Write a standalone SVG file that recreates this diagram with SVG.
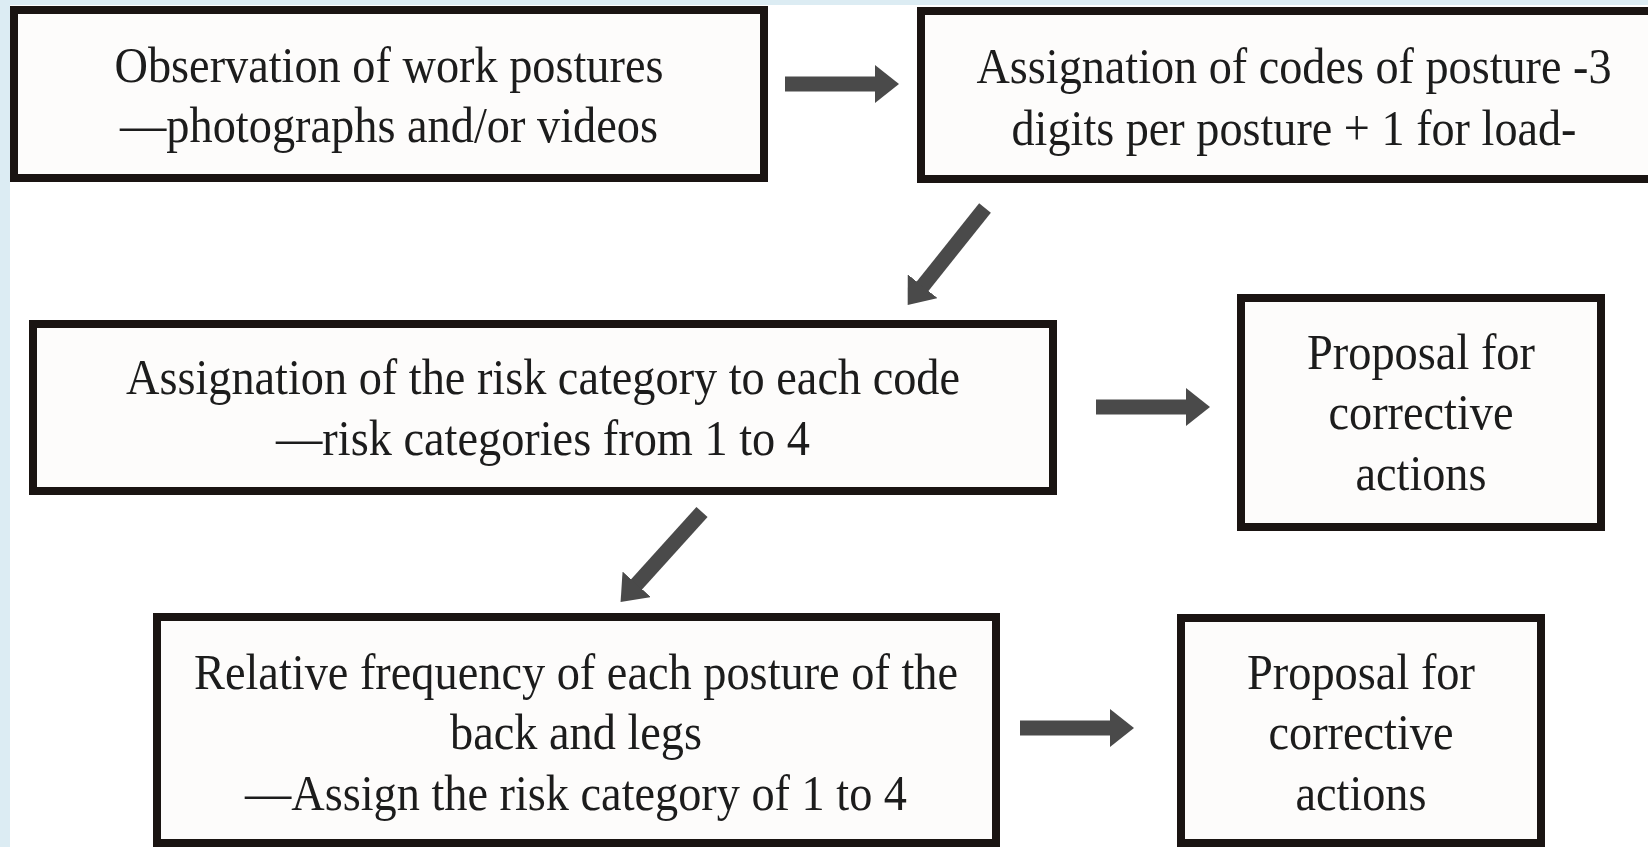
<svg xmlns="http://www.w3.org/2000/svg" width="1648" height="847" viewBox="0 0 1648 847">
  <style>
    .box { fill: #fdfcfb; stroke: #1a1412; stroke-width: 8; }
    .fill { fill: #fdfcfb; }
    .edge { fill: none; stroke: #1a1412; stroke-width: 8; }
    .t { font-family: "Liberation Serif", "Times New Roman", serif; font-size: 50px; fill: #1c1c1c; text-anchor: middle; }
    .arr { stroke: #4a4a4a; stroke-width: 15; fill: none; marker-end: url(#head); }
  </style>
  <defs>
    <marker id="head" markerUnits="userSpaceOnUse" viewBox="0 0 24 38" markerWidth="24" markerHeight="38" refX="1" refY="19" orient="auto">
      <path d="M0,0 L24,19 L0,38 Z" fill="#4a4a4a"/>
    </marker>
  </defs>
  <rect x="0" y="0" width="1648" height="847" fill="#dcecf3"/>
  <rect x="10" y="5" width="1638" height="842" fill="#ffffff"/>

  <g id="n1">
    <rect class="box" x="14" y="10" width="750" height="168"/>
    <text class="t" x="389" y="82" textLength="549" lengthAdjust="spacingAndGlyphs">Observation of work postures</text>
    <text class="t" x="389" y="142" textLength="538" lengthAdjust="spacingAndGlyphs">—photographs and/or videos</text>
  </g>
  <g id="n2">
    <rect class="fill" x="921" y="11" width="727" height="168"/>
    <path class="edge" d="M1648,11 H921 V179 H1648"/>
    <text class="t" x="1294" y="83" textLength="635" lengthAdjust="spacingAndGlyphs">Assignation of codes of posture -3</text>
    <text class="t" x="1294" y="145" textLength="565" lengthAdjust="spacingAndGlyphs">digits per posture + 1 for load-</text>
  </g>
  <g id="n3">
    <rect class="box" x="33" y="324" width="1020" height="167"/>
    <text class="t" x="543" y="394" textLength="834" lengthAdjust="spacingAndGlyphs">Assignation of the risk category to each code</text>
    <text class="t" x="543" y="455" textLength="534" lengthAdjust="spacingAndGlyphs">—risk categories from 1 to 4</text>
  </g>
  <g id="n4">
    <rect class="box" x="1241" y="298" width="360" height="229"/>
    <text class="t" x="1421" y="369" textLength="228" lengthAdjust="spacingAndGlyphs">Proposal for</text>
    <text class="t" x="1421" y="429" textLength="185" lengthAdjust="spacingAndGlyphs">corrective</text>
    <text class="t" x="1421" y="490" textLength="131" lengthAdjust="spacingAndGlyphs">actions</text>
  </g>
  <g id="n5">
    <rect class="box" x="157" y="617" width="839" height="226"/>
    <text class="t" x="576" y="689" textLength="764" lengthAdjust="spacingAndGlyphs">Relative frequency of each posture of the</text>
    <text class="t" x="576" y="749" textLength="252" lengthAdjust="spacingAndGlyphs">back and legs</text>
    <text class="t" x="576" y="810" textLength="662" lengthAdjust="spacingAndGlyphs">—Assign the risk category of 1 to 4</text>
  </g>
  <g id="n6">
    <rect class="box" x="1181" y="618" width="360" height="225"/>
    <text class="t" x="1361" y="689" textLength="228" lengthAdjust="spacingAndGlyphs">Proposal for</text>
    <text class="t" x="1361" y="749" textLength="185" lengthAdjust="spacingAndGlyphs">corrective</text>
    <text class="t" x="1361" y="810" textLength="131" lengthAdjust="spacingAndGlyphs">actions</text>
  </g>

  <g id="connectors">
    <line class="arr" x1="785" y1="84" x2="876" y2="84"/>
    <line class="arr" x1="985" y1="208" x2="922" y2="287"/>
    <line class="arr" x1="1096" y1="407" x2="1187" y2="407"/>
    <line class="arr" x1="702" y1="512" x2="636" y2="585"/>
    <line class="arr" x1="1020" y1="728" x2="1111" y2="728"/>
  </g>
</svg>
